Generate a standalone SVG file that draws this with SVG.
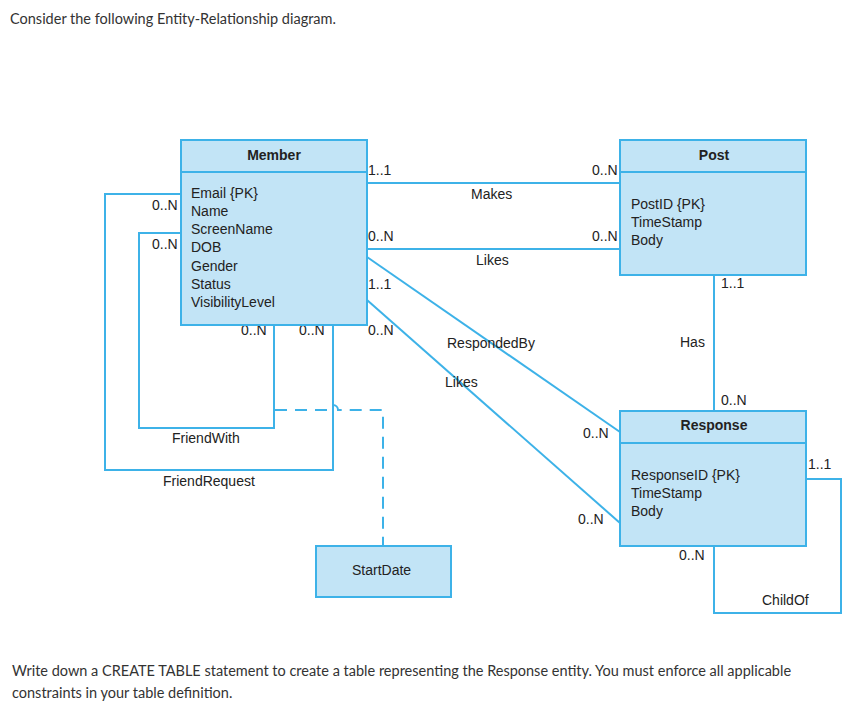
<svg xmlns="http://www.w3.org/2000/svg" width="864" height="716" viewBox="0 0 864 716">
<style>
.box{fill:#c2e4f6;stroke:#3db2e8;stroke-width:2}
.ln{fill:none;stroke:#3db2e8;stroke-width:2}
.dash{fill:none;stroke:#3db2e8;stroke-width:2;stroke-dasharray:12 8}
text{font-family:"Liberation Sans",Arial,sans-serif;font-size:14px;fill:#222}
.h{font-weight:bold;text-anchor:middle}
.q{font-family:Lato,"Liberation Sans",sans-serif;font-size:14.5px;fill:#333}
</style>
<rect width="864" height="716" fill="#fff"/>
<text class="q" x="10" y="24">Consider the following Entity-Relationship diagram.</text>
<text class="q" x="12" y="676">Write down a CREATE TABLE statement to create a table representing the Response entity. You must enforce all applicable</text>
<text class="q" x="12" y="698">constraints in your table definition.</text>
<g id="connectors">
<path class="ln" d="M367 183H620"/>
<path class="ln" d="M367 249H620"/>
<path class="ln" d="M367 257L620 432"/>
<path class="ln" d="M367 300L620 523"/>
<path class="ln" d="M181 233H139V428H274V325"/>
<path class="ln" d="M181 194H105V470H333V325"/>
<path class="dash" d="M275 410H328a5 5 0 0 1 10 0H383V546"/>
<path class="ln" d="M714 275V411"/>
<path class="ln" d="M806 479H841V613H714V546"/>
<text x="368" y="175">1..1</text>
<text x="592" y="175">0..N</text>
<text x="471" y="199">Makes</text>
<text x="368" y="241">0..N</text>
<text x="592" y="241">0..N</text>
<text x="476" y="265">Likes</text>
<text x="368" y="289">1..1</text>
<text x="368" y="335">0..N</text>
<text x="447" y="348">RespondedBy</text>
<text x="445" y="387">Likes</text>
<text x="583" y="438">0..N</text>
<text x="578" y="524">0..N</text>
<text x="152" y="210">0..N</text>
<text x="152" y="249">0..N</text>
<text x="241" y="335">0..N</text>
<text x="299" y="335">0..N</text>
<text x="172" y="443">FriendWith</text>
<text x="163" y="486">FriendRequest</text>
<text x="721" y="288">1..1</text>
<text x="680" y="347">Has</text>
<text x="721" y="405">0..N</text>
<text x="808" y="469">1..1</text>
<text x="679" y="560">0..N</text>
<text x="762" y="605">ChildOf</text>
</g>
<g id="member">
<rect class="box" x="181" y="140" width="186" height="185"/>
<path class="ln" d="M181 172H367"/>
<text class="h" x="274" y="160">Member</text>
<text x="191" y="198">Email {PK}</text>
<text x="191" y="216">Name</text>
<text x="191" y="234">ScreenName</text>
<text x="191" y="252">DOB</text>
<text x="191" y="271">Gender</text>
<text x="191" y="289">Status</text>
<text x="191" y="307">VisibilityLevel</text>
</g>
<g id="post">
<rect class="box" x="620" y="140" width="186" height="135"/>
<path class="ln" d="M620 172H806"/>
<text class="h" x="714" y="160">Post</text>
<text x="631" y="209">PostID {PK}</text>
<text x="631" y="227">TimeStamp</text>
<text x="631" y="245">Body</text>
</g>
<g id="response">
<rect class="box" x="620" y="411" width="186" height="135"/>
<path class="ln" d="M620 443H806"/>
<text class="h" x="714" y="430">Response</text>
<text x="631" y="480">ResponseID {PK}</text>
<text x="631" y="498">TimeStamp</text>
<text x="631" y="516">Body</text>
</g>
<g id="startdate">
<rect class="box" x="316" y="546" width="135" height="51"/>
<text x="352" y="575">StartDate</text>
</g>
</svg>
